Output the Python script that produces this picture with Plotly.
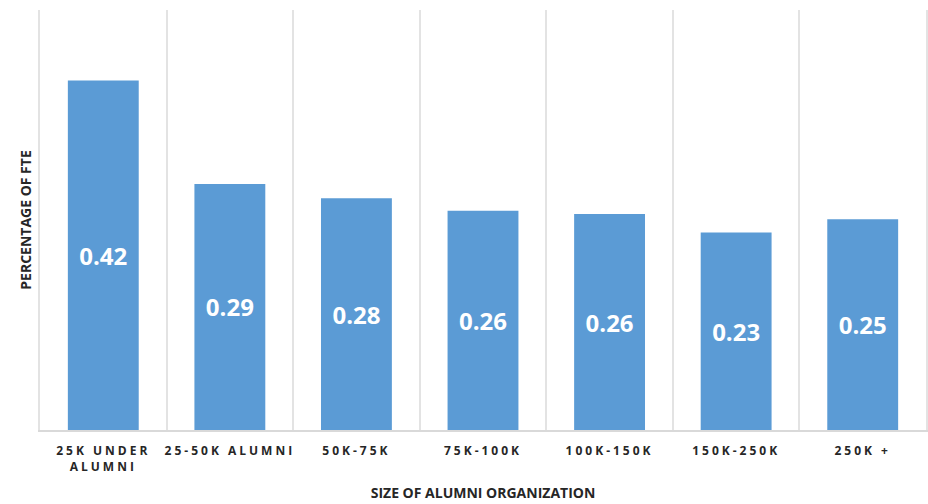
import plotly.graph_objects as go

categories = ["25K UNDER<br>ALUMNI", "25-50K ALUMNI", "50K-75K", "75K-100K",
              "100K-150K", "150K-250K", "250K +"]
values = [0.416, 0.293, 0.276, 0.261, 0.257, 0.235, 0.251]
labels = ["0.42", "0.29", "0.28", "0.26", "0.26", "0.23", "0.25"]

fig = go.Figure(go.Bar(
    x=categories, y=values, text=labels,
    textposition="inside", insidetextanchor="middle", textangle=0,
    textfont=dict(family="Open Sans", size=24, color="white", weight="bold"),
    marker=dict(color="#5B9BD5", line=dict(width=0)),
    cliponaxis=False,
))

fig.update_layout(
    width=928, height=504,
    margin=dict(l=40, r=0, t=10, b=74),
    plot_bgcolor="white", paper_bgcolor="white",
    bargap=0.44, showlegend=False,
    xaxis=dict(
        tickson="boundaries", showgrid=True, gridcolor="#E3E3E3", gridwidth=1.5,
        showline=True, linecolor="#D9D9D9", linewidth=1.5,
        ticks="", ticklabelstandoff=9,
        tickfont=dict(family="Open Sans", size=12, color="#262626", weight="bold"),
        title=dict(text="SIZE OF ALUMNI ORGANIZATION", standoff=14,
                   font=dict(family="Open Sans", size=14, color="#262626", weight="bold")),
    ),
    yaxis=dict(
        range=[0, 0.5], showticklabels=False, showgrid=False, zeroline=False,
        showline=True, linecolor="#E3E3E3", linewidth=1.5, mirror=True, ticks="",
        title=dict(text="PERCENTAGE OF FTE", standoff=3,
                   font=dict(family="Open Sans", size=14, color="#262626", weight="bold")),
    ),
)

post = """
var s = document.createElement('style');
s.innerHTML = 'body { margin: 0 !important; } .xtick text { letter-spacing: 3px; }';
document.head.appendChild(s);
"""
fig.write_html("out.html", post_script=post, config={"displayModeBar": False})
